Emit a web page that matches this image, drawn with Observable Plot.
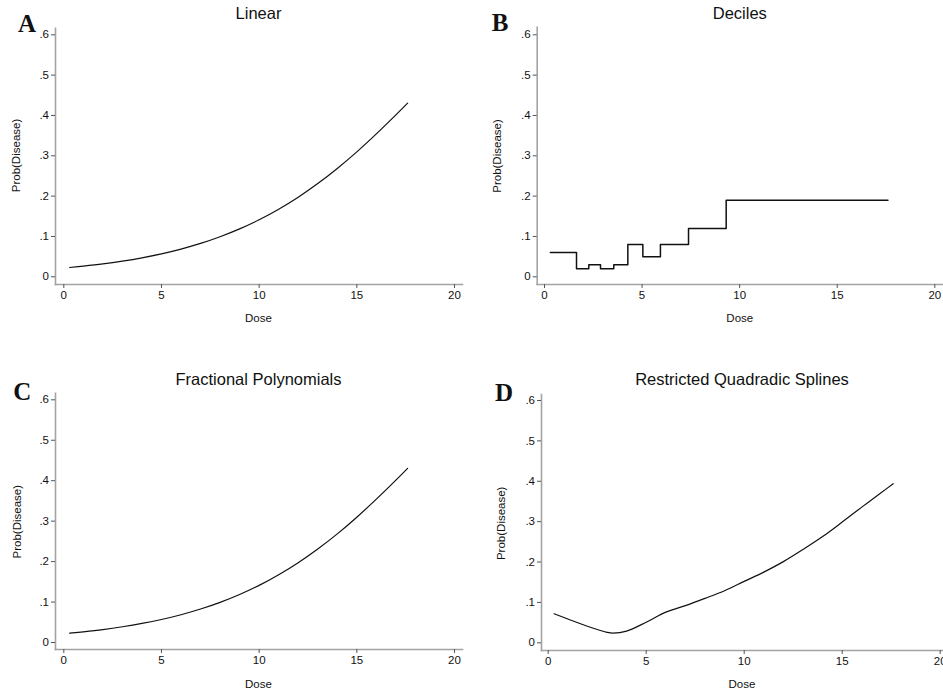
<!DOCTYPE html>
<html>
<head>
<meta charset="utf-8">
<script src="https://cdn.jsdelivr.net/npm/d3@7"></script>
<script src="https://cdn.jsdelivr.net/npm/@observablehq/plot@0.6"></script>
<style>
  html, body { margin: 0; padding: 0; background: #fff; overflow: hidden; }
  #figure { position: relative; width: 943px; height: 692px; }
  #figure svg.panel { position: absolute; overflow: visible; }
  #labels { position: absolute; left: 0; top: 0; pointer-events: none; }
</style>
</head>
<body>
<div id="figure"></div>
<script>
// Dose grid for the smooth fitted curves
const dose = [0.3, 1, 2, 3, 4, 5, 6, 7, 8, 9, 10, 11, 12, 13, 14, 15, 16, 17, 17.6];

// A: logistic model, dose entered linearly
const probLinear = [0.023, 0.0264, 0.032, 0.0389, 0.0471, 0.0569, 0.0687, 0.0827, 0.0993, 0.1187,
                    0.1413, 0.1676, 0.1974, 0.2311, 0.2686, 0.3098, 0.3543, 0.4013, 0.4305];

// C: fractional polynomial fit
const probFracPoly = [0.023, 0.0264, 0.032, 0.0389, 0.0471, 0.0569, 0.0687, 0.0827, 0.0993, 0.1187,
                      0.1413, 0.1676, 0.1974, 0.2311, 0.2686, 0.3098, 0.3543, 0.4013, 0.4305];

// D: restricted quadratic spline fit
const doseSpline = [0.3, 1, 2, 3, 3.3, 4, 5, 6, 7, 8, 9, 10, 11, 12, 13, 14, 15, 16, 17, 17.6];
const probSpline = [0.072, 0.059, 0.041, 0.026, 0.024, 0.029, 0.051, 0.076, 0.092, 0.110, 0.129,
                    0.152, 0.175, 0.201, 0.231, 0.263, 0.299, 0.336, 0.372, 0.394];

// B: category means by dose decile (left edge of each decile, last value closes the step)
const decileStart = [0.3, 1.64, 2.27, 2.87, 3.55, 4.27, 5.04, 5.94, 7.38, 9.31, 17.6];
const probDecile  = [0.06, 0.02, 0.03, 0.02, 0.03, 0.08, 0.05, 0.08, 0.12, 0.19, 0.19];

// Axes
const xTicks = [0, 5, 10, 15, 20];
const yTicks = [0, 0.1, 0.2, 0.3, 0.4, 0.5, 0.6];
const yTickLabels = ["0", ".1", ".2", ".3", ".4", ".5", ".6"];

const panelLetters = ["A", "B", "C", "D"];
const panelTitles = ["Linear", "Deciles", "Fractional Polynomials", "Restricted Quadradic Splines"];
const xLabel = "Dose";
const yLabel = "Prob(Disease)";

const toRows = (xs, ys) => xs.map((x, i) => ({dose: x, prob: ys[i]}));

const panels = [
  {rows: toRows(dose, probLinear), curve: "catmull-rom", strokeWidth: 1.2,
   left: 0, top: 0, width: 470, height: 346,
   mL: 55, mR: 8, mT: 27.7, mB: 62, iL: 8.3, iR: 8, iT: 6.6, iB: 7.7},
  {rows: toRows(decileStart, probDecile), curve: "step-after", strokeWidth: 1.5,
   left: 470, top: 0, width: 473, height: 346,
   mL: 66.7, mR: 0, mT: 26.7, mB: 62, iL: 7.3, iR: 8.7, iT: 7.6, iB: 7.7},
  {rows: toRows(dose, probFracPoly), curve: "catmull-rom", strokeWidth: 1.2,
   left: 0, top: 346, width: 470, height: 346,
   mL: 55, mR: 8, mT: 46.7, mB: 43, iL: 8.3, iR: 8, iT: 6.6, iB: 7},
  {rows: toRows(doseSpline, probSpline), curve: "catmull-rom", strokeWidth: 1.2,
   left: 470, top: 346, width: 473, height: 346,
   mL: 71, mR: 0, mT: 48, mB: 42, iL: 6.7, iR: 3.3, iT: 6, iB: 7.7}
];

const figure = document.getElementById("figure");
const axisGray = "#a3a3a3";

panels.forEach(p => {
  const chart = Plot.plot({
    width: p.width,
    height: p.height,
    marginLeft: p.mL,
    marginRight: p.mR,
    marginTop: p.mT,
    marginBottom: p.mB,
    style: {fontFamily: "'Liberation Sans', Arial, sans-serif", fontSize: "11.5px", color: "#111", background: "transparent"},
    x: {domain: [0, 20], insetLeft: p.iL, insetRight: p.iR},
    y: {domain: [0, 0.6], insetTop: p.iT, insetBottom: p.iB},
    marks: [
      Plot.frame({anchor: "left", stroke: axisGray, strokeWidth: 1.6}),
      Plot.frame({anchor: "bottom", stroke: axisGray, strokeWidth: 1.6}),
      Plot.axisX({ticks: xTicks, tickSize: 4, tickPadding: 2, stroke: "#555", fill: "#111", label: null}),
      Plot.axisY({ticks: yTicks, tickFormat: (d, i) => yTickLabels[yTicks.indexOf(d)],
                  tickSize: 4, tickPadding: 2.5, stroke: "#555", fill: "#111", label: null}),
      Plot.line(p.rows, {x: "dose", y: "prob", curve: p.curve, stroke: "#111", strokeWidth: p.strokeWidth})
    ]
  });
  chart.classList.add("panel");
  chart.style.left = p.left + "px";
  chart.style.top = p.top + "px";
  figure.appendChild(chart);
});

// Panel letters, titles and axis labels
const letterPos = [[18, 31.7], [491.7, 30.7], [13.3, 400], [495, 400.7]];
const titlePos = [[258.5, 19.3], [739.8, 19], [258.5, 384.7], [742, 385.3]];
const xLabelPos = [[258.5, 322], [739.8, 322], [258.5, 688], [742, 688.3]];
const yLabelPos = [[20, 155.5], [501, 156], [21, 521.7], [505, 523.3]];

const svg = d3.select(figure).append("svg")
  .attr("id", "labels")
  .attr("width", 943)
  .attr("height", 692);

panelLetters.forEach((t, i) => {
  svg.append("text").attr("x", letterPos[i][0]).attr("y", letterPos[i][1])
    .attr("font-family", "'Liberation Serif', 'Times New Roman', serif")
    .attr("font-weight", "bold").attr("font-size", 25).attr("fill", "#111").text(t);
  svg.append("text").attr("x", titlePos[i][0]).attr("y", titlePos[i][1])
    .attr("text-anchor", "middle")
    .attr("font-family", "'Liberation Sans', Arial, sans-serif")
    .attr("font-size", 16.5).attr("fill", "#111").text(panelTitles[i]);
  svg.append("text").attr("x", xLabelPos[i][0]).attr("y", xLabelPos[i][1])
    .attr("text-anchor", "middle")
    .attr("font-family", "'Liberation Sans', Arial, sans-serif")
    .attr("font-size", 11.5).attr("fill", "#111").text(xLabel);
  svg.append("text")
    .attr("transform", `translate(${yLabelPos[i][0]},${yLabelPos[i][1]}) rotate(-90)`)
    .attr("text-anchor", "middle")
    .attr("font-family", "'Liberation Sans', Arial, sans-serif")
    .attr("font-size", 11.5).attr("fill", "#111").text(yLabel);
});
</script>
</body>
</html>
